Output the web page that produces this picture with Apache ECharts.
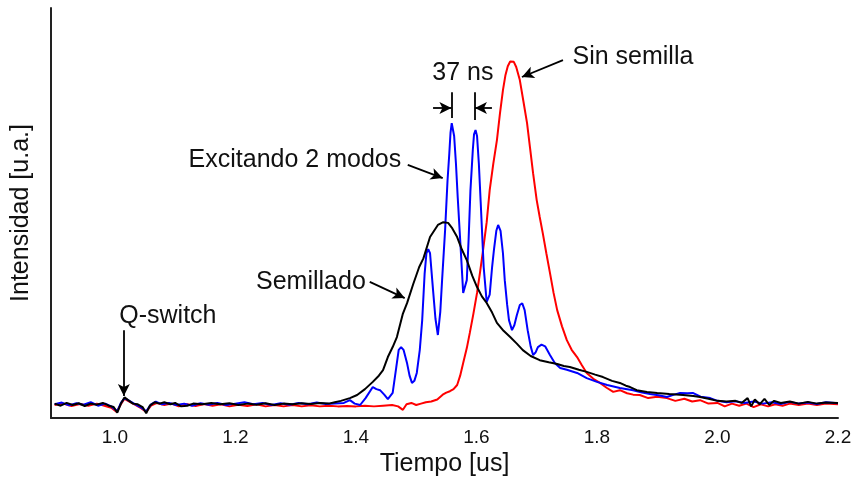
<!DOCTYPE html>
<html>
<head>
<meta charset="utf-8">
<script src="https://cdn.jsdelivr.net/npm/echarts@6/dist/echarts.min.js"></script>
<style>html,body{margin:0;padding:0;background:#fff}#c{width:854px;height:478px}</style>
</head>
<body>
<div id="c"></div>
<script>
// ---- Data (time in us, intensity in a.u. normalised to the "Sin semilla" peak) ----
const xTicks = [1.0, 1.2, 1.4, 1.6, 1.8, 2.0, 2.2];

const semilladoT = [0.900,0.910,0.920,0.930,0.940,0.950,0.960,0.970,0.980,0.990,0.998,1.004,1.010,1.016,1.022,1.030,1.038,1.046,1.052,1.058,1.066,1.074,1.082,1.092,1.100,1.110,1.120,1.130,1.145,1.160,1.175,1.190,1.205,1.220,1.235,1.250,1.265,1.280,1.295,1.310,1.325,1.340,1.355,1.365,1.375,1.390,1.402,1.415,1.428,1.438,1.445,1.453,1.461,1.468,1.478,1.485,1.495,1.505,1.512,1.523,1.536,1.545,1.553,1.560,1.568,1.576,1.584,1.593,1.601,1.609,1.617,1.626,1.634,1.645,1.656,1.667,1.677,1.690,1.705,1.720,1.734,1.745,1.755,1.770,1.783,1.797,1.810,1.825,1.838,1.848,1.855,1.866,1.883,1.900,1.920,1.943,1.960,1.971,1.985,2.000,2.015,2.030,2.040,2.050,2.056,2.062,2.070,2.078,2.086,2.094,2.105,2.120,2.135,2.150,2.165,2.180,2.200];
const semilladoV = [0.004,-0.002,0.006,0.000,0.005,-0.003,0.004,0.001,0.006,-0.002,-0.006,-0.022,0.004,0.022,0.014,0.004,0.002,-0.006,-0.024,-0.002,0.008,0.004,0.008,0.002,0.006,-0.004,-0.002,0.004,0.002,0.006,0.002,0.005,0.000,0.004,0.001,0.005,0.000,0.004,0.002,0.005,0.003,0.006,0.004,0.008,0.012,0.020,0.029,0.046,0.067,0.085,0.101,0.139,0.168,0.197,0.265,0.296,0.350,0.400,0.425,0.487,0.522,0.530,0.528,0.512,0.487,0.450,0.420,0.375,0.342,0.315,0.296,0.268,0.238,0.215,0.197,0.178,0.159,0.142,0.130,0.124,0.119,0.113,0.110,0.102,0.096,0.088,0.081,0.070,0.064,0.056,0.052,0.043,0.038,0.035,0.032,0.029,0.026,0.023,0.018,0.012,0.010,0.012,0.006,0.020,-0.004,0.016,0.002,0.018,0.000,0.012,0.006,0.010,0.004,0.009,0.004,0.007,0.006];

const dosModosT = [0.900,0.912,0.924,0.936,0.948,0.960,0.972,0.984,0.994,1.004,1.010,1.016,1.024,1.034,1.044,1.052,1.060,1.068,1.078,1.090,1.102,1.115,1.128,1.142,1.156,1.170,1.185,1.200,1.215,1.230,1.245,1.260,1.275,1.290,1.305,1.320,1.335,1.350,1.365,1.380,1.390,1.398,1.407,1.416,1.428,1.434,1.440,1.447,1.453,1.461,1.467,1.471,1.475,1.479,1.485,1.489,1.493,1.497,1.501,1.506,1.510,1.514,1.517,1.520,1.523,1.528,1.532,1.536,1.540,1.543,1.548,1.552,1.555,1.557,1.559,1.561,1.563,1.566,1.569,1.574,1.578,1.581,1.584,1.587,1.590,1.594,1.596,1.5985,1.601,1.604,1.607,1.612,1.617,1.622,1.626,1.629,1.633,1.636,1.640,1.644,1.647,1.651,1.654,1.659,1.663,1.667,1.672,1.676,1.680,1.685,1.690,1.694,1.698,1.702,1.708,1.714,1.722,1.730,1.739,1.750,1.767,1.783,1.800,1.817,1.838,1.860,1.875,1.888,1.902,1.916,1.928,1.938,1.950,1.959,1.972,1.988,2.000,2.015,2.030,2.045,2.060,2.075,2.090,2.105,2.120,2.135,2.150,2.165,2.180,2.200];
const dosModosV = [0.002,0.007,-0.001,0.005,0.001,0.008,-0.002,0.004,-0.004,-0.018,0.006,0.020,0.012,0.002,-0.008,-0.018,0.002,0.010,0.002,0.006,0.000,0.004,-0.002,0.005,0.001,0.006,0.000,0.004,0.008,0.002,0.006,0.000,0.005,0.001,0.006,0.002,0.007,0.003,0.004,0.006,0.014,0.004,0.000,0.020,0.052,0.046,0.043,0.030,0.017,0.035,0.110,0.160,0.168,0.160,0.120,0.085,0.064,0.070,0.093,0.160,0.246,0.380,0.440,0.452,0.440,0.333,0.250,0.203,0.270,0.362,0.507,0.650,0.730,0.790,0.817,0.812,0.780,0.700,0.600,0.449,0.325,0.320,0.362,0.480,0.620,0.740,0.785,0.797,0.780,0.700,0.590,0.400,0.299,0.320,0.400,0.449,0.505,0.522,0.505,0.440,0.362,0.290,0.246,0.217,0.232,0.260,0.290,0.295,0.275,0.217,0.170,0.145,0.152,0.168,0.175,0.170,0.145,0.122,0.107,0.102,0.093,0.078,0.067,0.058,0.049,0.043,0.036,0.032,0.028,0.023,0.030,0.035,0.034,0.035,0.024,0.020,0.012,0.008,0.011,0.006,0.010,0.004,0.008,0.003,0.009,0.004,0.007,0.003,0.008,0.005];

const sinSemillaT = [0.900,0.914,0.928,0.942,0.956,0.970,0.984,0.994,1.003,1.010,1.016,1.024,1.034,1.044,1.052,1.060,1.070,1.082,1.094,1.106,1.120,1.134,1.148,1.162,1.176,1.190,1.205,1.220,1.235,1.250,1.265,1.280,1.295,1.310,1.325,1.340,1.355,1.370,1.385,1.400,1.415,1.430,1.445,1.460,1.470,1.478,1.484,1.492,1.500,1.508,1.516,1.525,1.535,1.544,1.550,1.556,1.562,1.568,1.573,1.578,1.584,1.589,1.595,1.601,1.606,1.611,1.617,1.622,1.628,1.634,1.639,1.644,1.648,1.652,1.656,1.659,1.662,1.666,1.672,1.678,1.684,1.689,1.694,1.700,1.705,1.710,1.716,1.722,1.728,1.734,1.742,1.750,1.758,1.767,1.775,1.783,1.794,1.805,1.816,1.827,1.838,1.850,1.860,1.871,1.885,1.900,1.916,1.930,1.945,1.958,1.971,1.985,2.000,2.012,2.024,2.036,2.048,2.060,2.072,2.084,2.096,2.108,2.120,2.135,2.150,2.165,2.180,2.200];
const sinSemillaV = [0.000,0.004,-0.003,0.003,-0.002,0.004,-0.003,-0.008,-0.020,0.002,0.018,0.010,0.000,-0.010,-0.020,-0.002,0.006,0.000,0.004,-0.004,0.002,-0.003,0.003,-0.002,0.002,-0.004,0.001,-0.003,0.002,-0.004,0.000,-0.004,0.000,-0.004,-0.001,-0.004,-0.002,-0.004,-0.003,-0.004,-0.002,-0.004,-0.002,0.000,-0.004,-0.014,0.002,0.006,0.000,0.004,0.008,0.010,0.016,0.030,0.036,0.040,0.046,0.058,0.085,0.122,0.165,0.209,0.265,0.325,0.385,0.449,0.530,0.623,0.700,0.768,0.845,0.913,0.955,0.982,0.996,1.000,0.995,0.980,0.942,0.880,0.817,0.745,0.672,0.594,0.545,0.499,0.440,0.383,0.325,0.275,0.228,0.188,0.160,0.139,0.115,0.093,0.076,0.064,0.050,0.038,0.043,0.034,0.030,0.029,0.020,0.024,0.020,0.012,0.018,0.010,0.014,0.004,0.006,-0.004,0.004,-0.002,0.004,-0.006,0.002,-0.004,0.002,-0.002,0.004,0.000,0.004,0.000,0.004,0.002];

// Annotation labels and arrows (data coordinates)
const labelTexts = ['Q-switch', 'Semillado', 'Excitando 2 modos', 'Sin semilla', '37 ns'];
const labelPos   = [[1.088, 0.258], [1.3253, 0.357], [1.2988, 0.710], [1.8597, 1.009], [1.5776, 0.962]];
const arrows = [ // [from, to] arrowhead at "to"
  [[1.0149, 0.217], [1.0149, 0.026]],
  [[1.423, 0.357], [1.481, 0.310]],
  [[1.486, 0.696], [1.544, 0.658]],
  [[1.7436, 1.000], [1.6755, 0.951]],
  [[1.528, 0.861], [1.5585, 0.861]],
  [[1.6257, 0.861], [1.5975, 0.861]]
];
const bars = [
  [[1.5585, 0.907], [1.5585, 0.832]],
  [[1.5975, 0.907], [1.5975, 0.826]]
];

const zip = (t, v) => t.map((x, i) => [x, v[i]]);
const FONT = 'Liberation Sans, Arial, sans-serif';

const markLineData = arrows.map(a => [
  { coord: a[0], symbol: 'none' },
  { coord: a[1], symbol: 'arrow', symbolSize: [9, 12] }
]).concat(bars.map(b => [
  { coord: b[0], symbol: 'none' },
  { coord: b[1], symbol: 'none' }
]));

const markPointData = labelTexts.map((s, i) => ({ name: s, coord: labelPos[i] }));

const chart = echarts.init(document.getElementById('c'), null, { renderer: 'canvas' });
chart.setOption({
  animation: false,
  backgroundColor: '#fff',
  grid: { left: 51, right: 16, top: 8, bottom: 60, containLabel: false, outerBoundsMode: 'none' },
  xAxis: {
    type: 'value', min: 0.894, max: 2.2,
    axisLine: { show: true, onZero: false, lineStyle: { color: '#222', width: 2 } },
    axisTick: { show: false },
    splitLine: { show: false },
    axisLabel: {
      customValues: xTicks, formatter: v => v.toFixed(1),
      fontFamily: FONT, fontSize: 19, color: '#111', margin: 10
    },
    name: 'Tiempo [us]', nameLocation: 'middle', nameGap: 32,
    nameTextStyle: { fontFamily: FONT, fontSize: 25, color: '#111' }
  },
  yAxis: {
    type: 'value', min: -0.0377, max: 1.151,
    axisLine: { show: true, onZero: false, lineStyle: { color: '#222', width: 2 } },
    axisTick: { show: false }, axisLabel: { show: false }, splitLine: { show: false },
    name: 'Intensidad [u.a.]', nameLocation: 'middle', nameGap: 17,
    nameTextStyle: { fontFamily: FONT, fontSize: 25, color: '#111' }
  },
  series: [
    { name: 'Sin semilla', type: 'line', data: zip(sinSemillaT, sinSemillaV), showSymbol: false,
      lineStyle: { color: '#ff0000', width: 2 }, itemStyle: { color: '#ff0000' }, silent: true },
    { name: 'Excitando 2 modos', type: 'line', data: zip(dosModosT, dosModosV), showSymbol: false,
      lineStyle: { color: '#0000ff', width: 2 }, itemStyle: { color: '#0000ff' }, silent: true },
    { name: 'Semillado', type: 'line', data: zip(semilladoT, semilladoV), showSymbol: false,
      lineStyle: { color: '#000000', width: 2 }, itemStyle: { color: '#000' }, silent: true,
      markLine: {
        silent: true, animation: false,
        lineStyle: { color: '#000', width: 1.8, type: 'solid' },
        label: { show: false },
        emphasis: { disabled: true },
        data: markLineData
      },
      markPoint: {
        silent: true, animation: false,
        symbol: 'circle', symbolSize: 0,
        itemStyle: { color: 'rgba(0,0,0,0)' },
        label: { show: true, position: 'inside', formatter: '{b}', fontFamily: FONT, fontSize: 25, color: '#111' },
        data: markPointData
      }
    }
  ]
});
</script>
</body>
</html>
